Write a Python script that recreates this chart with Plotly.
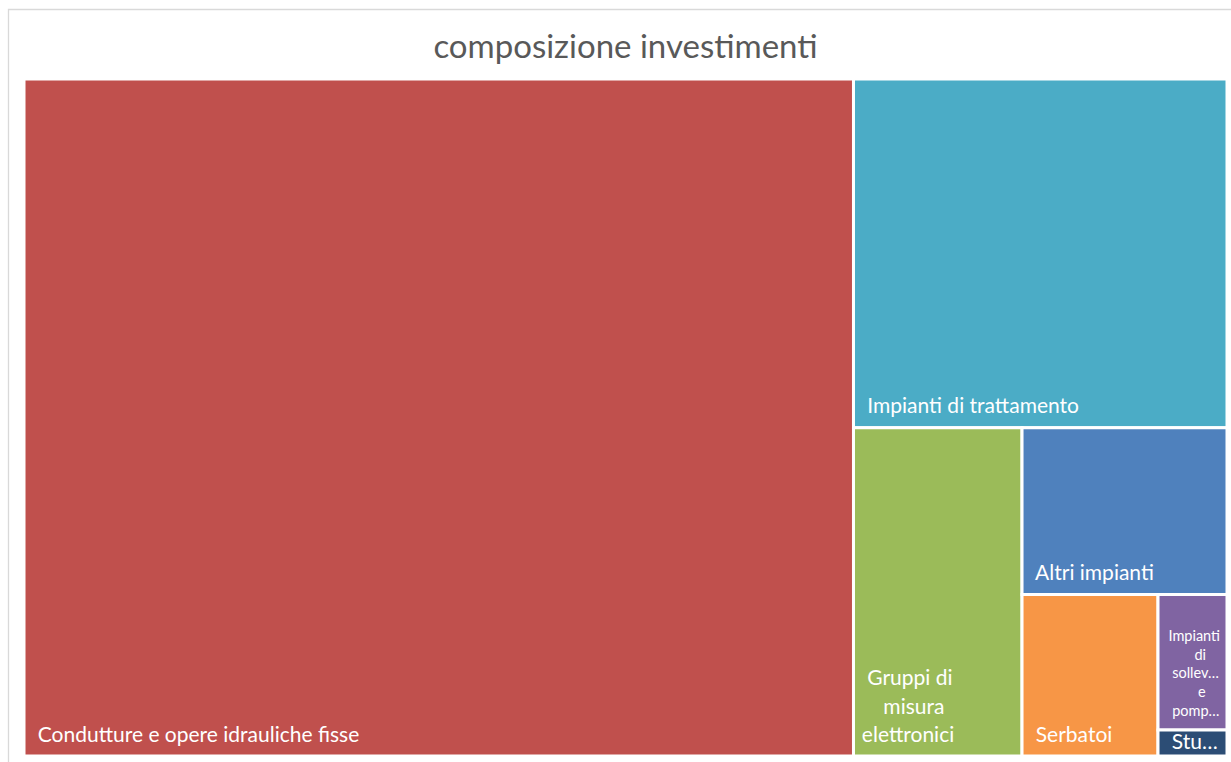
import plotly.graph_objects as go

# Composizione degli investimenti (quota %)
categorie = [
    "Condutture e opere idrauliche fisse",
    "Impianti di trattamento",
    "Gruppi di misura elettronici",
    "Altri impianti",
    "Serbatoi",
    "Impianti di sollevamento e pompaggio",
    "Studi e progettazioni",
]
quote = [69.0, 16.0, 6.8, 4.2, 2.7, 1.15, 0.22]
# righe di testo mostrate in ciascun riquadro
righe_etichette = [
    ["Condutture e opere idrauliche fisse"],
    ["Impianti di trattamento"],
    ["Gruppi di", "misura", "elettronici"],
    ["Altri impianti"],
    ["Serbatoi"],
    ["Impianti", "di", "sollev…", "e", "pomp…"],
    ["Stu…"],
]
rientri = [[2], [2], [2, 5, 1], [2], [2], [2, 9, 3, 10, 3], [2]]
dimensioni_testo = [21, 21, 21, 21, 21, 14.5, 21]
passo_righe = [3, 3, 3, 3, 3, 2, 3]
spazio_sotto = [True, True, True, True, True, True, False]
colori = ["#C0504D", "#4BACC6", "#9BBB59", "#4F81BD", "#F79646", "#8064A2", "#2C4D75"]

W, H = 1231, 762
ML, MR, MT, MB = 24, 4, 79, 6
BASE = 7.2          # dimensione base: determina l'interlinea (1.3 em)
NB = "\u00a0"


def componi(righe, rient, dim, passo, sotto):
    corpo = [
        f"<span style='font-size:{dim}px'>{NB * n}{r}</span>"
        for r, n in zip(righe, rient)
    ]
    testo = ("<br>" * passo).join(corpo)
    if sotto:
        testo += "<br>" + NB
    return testo


etichette = [
    componi(*args)
    for args in zip(righe_etichette, rientri, dimensioni_testo, passo_righe, spazio_sotto)
]

radice = "Totale investimenti"
fig = go.Figure(
    go.Treemap(
        ids=[radice] + categorie,
        labels=[radice] + categorie,
        parents=[""] + [radice] * len(categorie),
        values=[0] + quote,
        branchvalues="remainder",
        text=[""] + etichette,
        texttemplate="%{text}",
        textposition="bottom left",
        textfont=dict(family="Lato", color="white", size=BASE),
        marker=dict(
            colors=["white"] + colori,
            line=dict(color="white", width=3),
            pad=dict(t=0, l=0, r=0, b=0),
        ),
        tiling=dict(packing="squarify", squarifyratio=1, pad=0),
        pathbar=dict(visible=False),
        sort=True,
        hovertemplate="%{label}<br>%{value}%<extra></extra>",
    )
)

pw, ph = W - ML - MR, H - MT - MB
fig.add_shape(
    type="rect", xref="paper", yref="paper",
    x0=(8.5 - ML) / pw, x1=(W + 20 - ML) / pw,
    y0=-(MB + 20) / ph, y1=1 + (MT - 9.5) / ph,
    line=dict(color="#D9D9D9", width=1.3), fillcolor="rgba(0,0,0,0)", layer="below",
)

fig.update_layout(
    width=W, height=H,
    margin=dict(l=ML, r=MR, t=MT, b=MB),
    paper_bgcolor="white",
    # le etichette restano alla loro dimensione anche nei riquadri piccoli
    uniformtext=dict(mode="show", minsize=BASE),
    title=dict(
        text="composizione investimenti",
        x=(625.5) / W, xanchor="center",
        y=1 - 46 / H, yanchor="middle",
        font=dict(family="Lato", size=33, color="#595959"),
    ),
)

fig.write_html("out.html")
